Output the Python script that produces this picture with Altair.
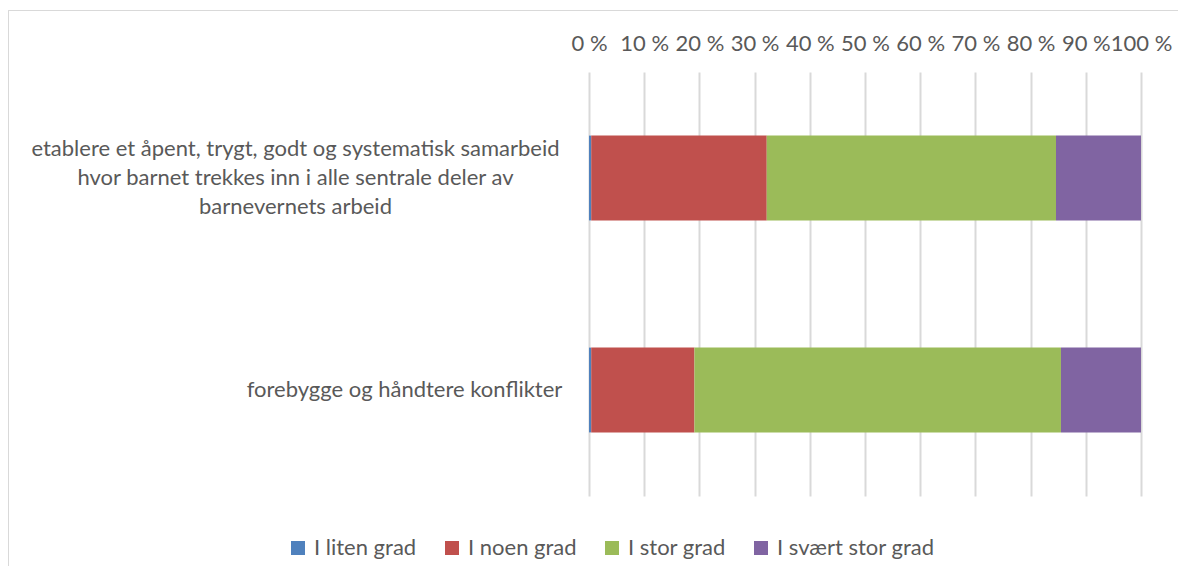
import altair as alt
import pandas as pd

categories = [
    "etablere et åpent, trygt, godt og systematisk samarbeid hvor barnet trekkes inn i alle sentrale deler av barnevernets arbeid",
    "forebygge og håndtere konflikter",
]
category_labels = [
    "etablere et åpent, trygt, godt og systematisk samarbeid\nhvor barnet trekkes inn i alle sentrale deler av\nbarnevernets arbeid",
    "forebygge og håndtere konflikter",
]
series = ["I liten grad", "I noen grad", "I stor grad", "I svært stor grad"]
colors = ["#4F81BD", "#C0504D", "#9BBB59", "#8064A2"]
liten = [0.4, 0.4]
noen = [31.8, 18.7]
stor = [52.4, 66.4]
svaert = [15.4, 14.5]
ticks = [0, 10, 20, 30, 40, 50, 60, 70, 80, 90, 100]

FONT = "Lato"
TXT = "#595959"
FS = 22

rows = []
for i, c in enumerate(categories):
    for j, (s, vals) in enumerate(zip(series, [liten, noen, stor, svaert])):
        rows.append({"cat": c, "serie": s, "val": vals[i], "ord": j})
df = pd.DataFrame(rows)
lab = pd.DataFrame({"cat": categories, "label": category_labels})

y_enc = alt.Y("cat:N", sort=categories, axis=None,
              scale=alt.Scale(paddingInner=0.6, paddingOuter=0.3))

bars = alt.Chart(df).mark_bar().encode(
    x=alt.X("val:Q", stack="zero",
            scale=alt.Scale(domain=[0, 100], nice=False),
            axis=alt.Axis(orient="top", values=ticks, labelExpr="datum.value + ' %'",
                          title=None, domain=False, ticks=False, labelPadding=17,
                          labelOverlap=False, labelFlush=False,
                          grid=True, gridColor="#D9D9D9", gridWidth=2,
                          labelFont=FONT, labelFontSize=FS, labelColor=TXT)),
    y=y_enc,
    color=alt.Color("serie:N", sort=series,
                    scale=alt.Scale(domain=series, range=colors),
                    legend=alt.Legend(orient="none", legendX=-302, legendY=465,
                                      direction="horizontal", columns=4, title=None,
                                      symbolType="square", symbolSize=196,
                                      symbolStrokeWidth=0, columnPadding=24,
                                      labelOffset=5, labelFont=FONT, labelFontSize=FS,
                                      labelColor=TXT, labelLimit=300)),
    order=alt.Order("ord:Q"),
)

def label_layer(idx, xpos, dy):
    return alt.Chart(lab).transform_filter(
        alt.datum.cat == categories[idx]
    ).mark_text(align="center", baseline="middle", lineBreak="\n", lineHeight=29,
                dy=dy, font=FONT, fontSize=FS, color=TXT).encode(
        x=alt.value(xpos), y=y_enc, text="label:N")

lab1 = label_layer(0, -293.5, -29)
lab2 = label_layer(1, -184.5, 0)

border_top = alt.Chart(lab).mark_rule(color="#D9D9D9", strokeWidth=1).encode(
    x=alt.value(-580.5), x2=alt.value(620), y=alt.value(-61.5))
border_left = alt.Chart(lab).mark_rule(color="#D9D9D9", strokeWidth=1).encode(
    x=alt.value(-580.5), y=alt.value(-61.5), y2=alt.value(510))

chart = alt.layer(border_top, border_left, bars, lab1, lab2).properties(
    width=552, height=424,
    padding={"left": 581, "top": 64, "right": 37, "bottom": 70},
    autosize=alt.AutoSizeParams(type="none"),
).configure_view(stroke=None)

chart.save("out.html", embed_options={"renderer": "svg", "actions": False})
